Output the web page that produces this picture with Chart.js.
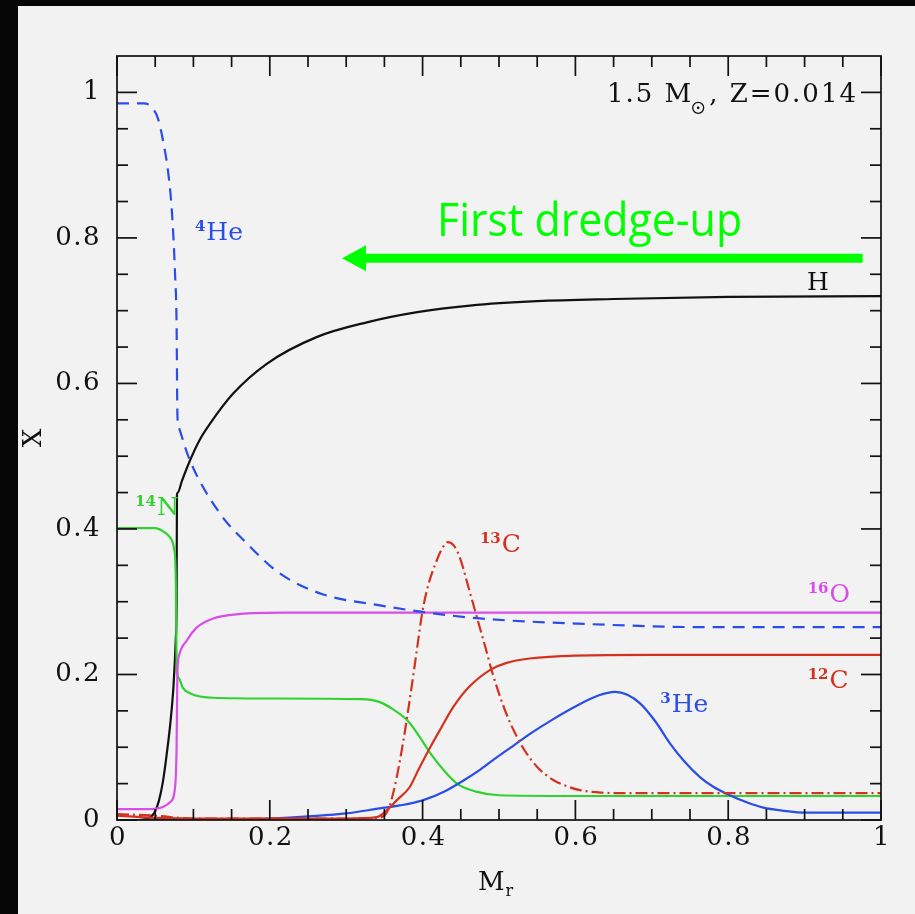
<!DOCTYPE html>
<html>
<head>
<meta charset="utf-8">
<script src="https://cdn.jsdelivr.net/npm/chart.js@4.4.1/dist/chart.umd.min.js"></script>
<style>
  html, body { margin: 0; padding: 0; background: #f2f2f2; }
  canvas { display: block; }
</style>
</head>
<body>
<canvas id="abundancias" width="915" height="914"></canvas>
<script>
// perfiles de abundancia (Mr en x, fraccion de masa X en y)
var hX = [0, 0.03, 0.04, 0.045, 0.05, 0.055, 0.06, 0.065, 0.07, 0.074, 0.077, 0.078, 0.0785, 0.0795, 0.085, 0.0955, 0.108, 0.122, 0.152, 0.196, 0.262, 0.327, 0.393, 0.462, 0.55, 0.65, 0.8, 1];
var hY = [0, 0, 0.002, 0.005, 0.012, 0.027, 0.052, 0.09, 0.135, 0.185, 0.25, 0.3, 0.447, 0.45, 0.466, 0.494, 0.522, 0.545, 0.586, 0.627, 0.664, 0.684, 0.698, 0.707, 0.713, 0.716, 0.719, 0.72];

var he4X = [0, 0.035, 0.045, 0.054, 0.06, 0.067, 0.072, 0.076, 0.078, 0.079, 0.08, 0.084, 0.0955, 0.135, 0.17, 0.213, 0.27, 0.344, 0.4, 0.475, 0.6, 0.776, 1];
var he4Y = [0.985, 0.985, 0.98, 0.963, 0.935, 0.89, 0.834, 0.75, 0.68, 0.56, 0.545, 0.53, 0.494, 0.421, 0.38, 0.339, 0.31, 0.295, 0.286, 0.277, 0.27, 0.265, 0.265];

var n14X = [0, 0.05, 0.06, 0.069, 0.075, 0.077, 0.078, 0.081, 0.086, 0.096, 0.126, 0.2, 0.32, 0.344, 0.36, 0.38, 0.395, 0.41, 0.428, 0.445, 0.47, 0.5, 0.6, 1];
var n14Y = [0.401, 0.401, 0.397, 0.389, 0.371, 0.33, 0.21, 0.195, 0.182, 0.174, 0.168, 0.167, 0.166, 0.162, 0.153, 0.137, 0.116, 0.092, 0.068, 0.05, 0.039, 0.034, 0.033, 0.033];

var o16X = [0, 0.04, 0.06, 0.07, 0.076, 0.078, 0.079, 0.081, 0.0916, 0.105, 0.126, 0.16, 0.22, 1];
var o16Y = [0.015, 0.015, 0.018, 0.025, 0.045, 0.1, 0.2, 0.225, 0.247, 0.265, 0.277, 0.283, 0.285, 0.285];

var c12X = [0, 0.03, 0.1, 0.3, 0.34, 0.353, 0.366, 0.383, 0.395, 0.41, 0.425, 0.44, 0.46, 0.488, 0.51, 0.54, 0.6, 0.7, 1];
var c12Y = [0.006, 0.004, 0.002, 0.002, 0.004, 0.013, 0.027, 0.045, 0.07, 0.1, 0.128, 0.155, 0.182, 0.206, 0.216, 0.222, 0.226, 0.227, 0.227];

var c13X = [0, 0.05, 0.1, 0.3, 0.34, 0.35, 0.357, 0.366, 0.375, 0.383, 0.392, 0.4, 0.408, 0.416, 0.425, 0.433, 0.441, 0.449, 0.46, 0.471, 0.482, 0.492, 0.51, 0.531, 0.55, 0.571, 0.59, 0.606, 0.63, 0.65, 1];
var c13Y = [0.008, 0.006, 0.002, 0.002, 0.003, 0.006, 0.02, 0.058, 0.11, 0.164, 0.23, 0.288, 0.325, 0.35, 0.372, 0.382, 0.377, 0.36, 0.32, 0.279, 0.238, 0.2, 0.145, 0.1, 0.073, 0.055, 0.046, 0.041, 0.038, 0.037, 0.037];

var he3X = [0, 0.15, 0.2, 0.25, 0.3, 0.344, 0.37, 0.4, 0.43, 0.453, 0.475, 0.497, 0.52, 0.54, 0.57, 0.6, 0.63, 0.652, 0.668, 0.685, 0.705, 0.724, 0.743, 0.763, 0.78, 0.802, 0.825, 0.846, 0.87, 0.903, 1];
var he3Y = [0, 0, 0.002, 0.005, 0.009, 0.016, 0.02, 0.027, 0.04, 0.054, 0.069, 0.086, 0.103, 0.118, 0.138, 0.156, 0.171, 0.176, 0.172, 0.16, 0.135, 0.105, 0.08, 0.059, 0.046, 0.034, 0.024, 0.017, 0.013, 0.01, 0.01];

var xTicks = [0, 0.2, 0.4, 0.6, 0.8, 1];
var xTickLabels = ['0', '0.2', '0.4', '0.6', '0.8', '1'];
var yTicks = [0, 0.2, 0.4, 0.6, 0.8, 1];
var yTickLabels = ['0', '0.2', '0.4', '0.6', '0.8', '1'];

var AZUL = '#2a4de8', VERDE = '#2fd22f', MAGENTA = '#d94ee8', ROJO = '#d4321f', NEGRO = '#111111';
var SERIF = '"DejaVu Serif", serif';

function puntos(xs, ys) {
    return xs.map(function (x, i) { return { x: x, y: ys[i] }; });
}

function serie(xs, ys, color, dash) {
    return {
        data: puntos(xs, ys),
        borderColor: color,
        borderWidth: 2.2,
        borderDash: dash || [],
        pointRadius: 0,
        cubicInterpolationMode: 'monotone',
        fill: false
    };
}

// escribe "^A Sym" con el numero masico como superindice
function isotopo(ctx, sx, sy, x, y, masa, simbolo, color) {
    var px = sx.getPixelForValue(x), py = sy.getPixelForValue(y);
    ctx.fillStyle = color;
    ctx.textAlign = 'left';
    ctx.textBaseline = 'alphabetic';
    var w = 0;
    if (masa) {
        ctx.font = 'bold 15px ' + SERIF;
        ctx.fillText(masa, px, py - 9);
        w = ctx.measureText(masa).width + 1;
    }
    ctx.font = '25px ' + SERIF;
    ctx.fillText(simbolo, px + w, py);
}

function linea(ctx, x1, y1, x2, y2) {
    ctx.beginPath();
    ctx.moveTo(x1, y1);
    ctx.lineTo(x2, y2);
    ctx.stroke();
}

var marco = {
    id: 'marco',
    beforeDraw: function (chart) {
        var ctx = chart.ctx;
        ctx.save();
        ctx.fillStyle = '#f2f2f2';
        ctx.fillRect(0, 0, chart.width, chart.height);
        ctx.fillStyle = '#060606';
        ctx.fillRect(0, 0, 18, chart.height);
        ctx.fillRect(0, 0, chart.width, 6);
        ctx.restore();
    },
    afterDatasetsDraw: function (chart) {
        var ctx = chart.ctx, a = chart.chartArea;
        var sx = chart.scales.x, sy = chart.scales.y;
        ctx.save();

        // caja y marcas hacia adentro en los cuatro lados
        ctx.strokeStyle = NEGRO;
        ctx.lineWidth = 1.7;
        ctx.strokeRect(a.left, a.top, a.right - a.left, a.bottom - a.top);
        for (var i = 0; i <= 20; i++) {
            var v = i * 0.05;
            var len = (i % 4 === 0) ? 20 : 11;
            var px = sx.getPixelForValue(v);
            linea(ctx, px, a.bottom, px, a.bottom - len);
            linea(ctx, px, a.top, px, a.top + len);
            var py = sy.getPixelForValue(v);
            linea(ctx, a.left, py, a.left + len, py);
            linea(ctx, a.right, py, a.right - len, py);
        }

        // etiquetas de los ejes
        ctx.fillStyle = NEGRO;
        ctx.font = '26px ' + SERIF;
        ctx.letterSpacing = '1.5px';
        ctx.textBaseline = 'middle';
        ctx.textAlign = 'center';
        xTicks.forEach(function (t, k) {
            ctx.fillText(xTickLabels[k], sx.getPixelForValue(t) + 1, a.bottom + 18);
        });
        ctx.textAlign = 'right';
        yTicks.forEach(function (t, k) {
            ctx.fillText(yTickLabels[k], a.left - 16, sy.getPixelForValue(t));
        });
        ctx.letterSpacing = '0px';

        // titulo eje x: M_r
        ctx.textAlign = 'left';
        ctx.textBaseline = 'alphabetic';
        ctx.font = '26px ' + SERIF;
        var xm = sx.getPixelForValue(0.5) - 21;
        ctx.fillText('M', xm, a.bottom + 70);
        var wm = ctx.measureText('M').width;
        ctx.font = '16px ' + SERIF;
        ctx.fillText('r', xm + wm + 1, a.bottom + 76);

        // titulo eje y: X
        ctx.save();
        ctx.translate(34, (a.top + a.bottom) / 2);
        ctx.rotate(-Math.PI / 2);
        ctx.textAlign = 'center';
        ctx.textBaseline = 'middle';
        ctx.font = '26px ' + SERIF;
        ctx.fillText('X', 0, 0);
        ctx.restore();

        // rotulo del modelo, alineado a la derecha junto a la marca de y=1
        ctx.letterSpacing = '2px';
        ctx.font = '26px ' + SERIF;
        var base = sy.getPixelForValue(0.987);
        var p1 = '1.5 M', p3 = ', Z=0.014';
        var w1 = ctx.measureText(p1).width, w3 = ctx.measureText(p3).width;
        var x0 = a.right - 23 - w3 - 16 - w1;
        ctx.fillText(p1, x0, base);
        ctx.lineWidth = 1.3;
        ctx.strokeStyle = NEGRO;
        var cx = x0 + w1 + 5, cy = base + 6;
        ctx.beginPath(); ctx.arc(cx, cy, 5.5, 0, Math.PI * 2); ctx.stroke();
        ctx.beginPath(); ctx.arc(cx, cy, 1.3, 0, Math.PI * 2); ctx.fill();
        ctx.fillText(p3, x0 + w1 + 16, base);
        ctx.letterSpacing = '0px';

        // nombres de las curvas
        isotopo(ctx, sx, sy, 0.102, 0.797, '4', 'He', AZUL);
        isotopo(ctx, sx, sy, 0.0236, 0.419, '14', 'N', VERDE);
        isotopo(ctx, sx, sy, 0.475, 0.368, '13', 'C', ROJO);
        isotopo(ctx, sx, sy, 0.904, 0.299, '16', 'O', MAGENTA);
        isotopo(ctx, sx, sy, 0.904, 0.181, '12', 'C', ROJO);
        isotopo(ctx, sx, sy, 0.711, 0.148, '3', 'He', AZUL);
        isotopo(ctx, sx, sy, 0.903, 0.729, '', 'H', NEGRO);

        // flecha verde del primer dragado
        var ay = sy.getPixelForValue(0.772);
        var ax1 = sx.getPixelForValue(0.976), ax2 = sx.getPixelForValue(0.2945);
        ctx.strokeStyle = '#00ff00';
        ctx.fillStyle = '#00ff00';
        ctx.lineWidth = 9;
        linea(ctx, ax1, ay, ax2 + 20, ay);
        ctx.beginPath();
        ctx.moveTo(ax2, ay);
        ctx.lineTo(ax2 + 24, ay - 13);
        ctx.lineTo(ax2 + 24, ay + 13);
        ctx.closePath();
        ctx.fill();

        ctx.font = '46px "Open Sans", sans-serif';
        ctx.textAlign = 'left';
        var txt = 'First dredge-up';
        var wt = ctx.measureText(txt).width;
        var tx = sx.getPixelForValue(0.419), ty = sy.getPixelForValue(0.803);
        ctx.save();
        ctx.translate(tx, ty);
        ctx.scale(305 / wt, 1);
        ctx.fillText(txt, 0, 0);
        ctx.restore();

        ctx.restore();
    }
};

var ctx = document.getElementById('abundancias');
var grafico = new Chart(ctx, {
    type: 'line',
    data: {
        datasets: [
            serie(he4X, he4Y, AZUL, [12, 8]),
            serie(o16X, o16Y, MAGENTA),
            serie(c12X, c12Y, ROJO),
            serie(c13X, c13Y, ROJO, [12, 4, 2, 4]),
            serie(he3X, he3Y, AZUL),
            serie(n14X, n14Y, VERDE),
            serie(hX, hY, NEGRO)
        ]
    },
    options: {
        responsive: false,
        devicePixelRatio: 1,
        animation: false,
        layout: { padding: { left: 117, top: 56, right: 34, bottom: 94 } },
        scales: {
            x: { type: 'linear', min: 0, max: 1, display: false },
            y: { type: 'linear', min: 0, max: 1.05, display: false }
        },
        plugins: {
            legend: { display: false },
            tooltip: { enabled: false }
        }
    },
    plugins: [marco]
});
</script>
</body>
</html>
